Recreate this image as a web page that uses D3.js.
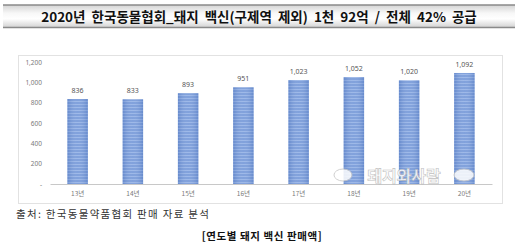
<!doctype html>
<html>
<head>
<meta charset="utf-8">
<script src="https://d3js.org/d3.v7.min.js"></script>
<style>
  body { margin: 0; background: #fff; }
  text { font-family: "Noto Sans CJK KR", "Noto Sans", sans-serif; }
</style>
</head>
<body>
<svg width="519" height="245" id="chart"></svg>
<script>
    var years = ["13년", "14년", "15년", "16년", "17년", "18년", "19년", "20년"];
    var sales = [836, 833, 893, 951, 1023, 1052, 1020, 1092];
    var yTicks = [0, 200, 400, 600, 800, 1000, 1200];

    var svg = d3.select("#chart");
    var defs = svg.append("defs");

    // title bar gradient
    var tg = defs.append("linearGradient").attr("id", "titleGrad")
        .attr("x1", 0).attr("y1", 0).attr("x2", 0).attr("y2", 1);
    tg.append("stop").attr("offset", "0%").attr("stop-color", "#d4d4d4");
    tg.append("stop").attr("offset", "35%").attr("stop-color", "#f7f7f7");
    tg.append("stop").attr("offset", "60%").attr("stop-color", "#ffffff");
    tg.append("stop").attr("offset", "100%").attr("stop-color", "#cfcfcf");

    // striped bar fill
    var pat = defs.append("pattern").attr("id", "barFill")
        .attr("patternUnits", "userSpaceOnUse")
        .attr("width", 4).attr("height", 3);
    pat.append("rect").attr("width", 4).attr("height", 3).attr("fill", "#7397d8");
    pat.append("rect").attr("y", 2).attr("width", 4).attr("height", 1).attr("fill", "#93b1e6");

    var bg = defs.append("linearGradient").attr("id", "barShade")
        .attr("x1", 0).attr("y1", 0).attr("x2", 1).attr("y2", 0);
    bg.append("stop").attr("offset", "0%").attr("stop-color", "#4f73b8").attr("stop-opacity", 0.35);
    bg.append("stop").attr("offset", "50%").attr("stop-color", "#ffffff").attr("stop-opacity", 0.1);
    bg.append("stop").attr("offset", "100%").attr("stop-color", "#4f73b8").attr("stop-opacity", 0.35);

    // title bar
    svg.append("rect").attr("x", 3).attr("y", 5).attr("width", 512).attr("height", 23)
        .attr("fill", "url(#titleGrad)");
    svg.append("line").attr("x1", 3).attr("x2", 515).attr("y1", 5).attr("y2", 5)
        .attr("stroke", "#8a8a8a").attr("stroke-width", 1.5);
    svg.append("line").attr("x1", 3).attr("x2", 515).attr("y1", 27.5).attr("y2", 27.5)
        .attr("stroke", "#8a8a8a").attr("stroke-width", 1.5);
    svg.append("text")
       .attr("x", 259).attr("y", 21.5)
       .attr("text-anchor", "middle")
       .attr("font-size", "13.5px")
       .attr("font-weight", "bold")
       .attr("word-spacing", "3px")
       .attr("fill", "#111")
       .text("2020년 한국동물협회_돼지 백신(구제역 제외) 1천 92억 / 전체 42% 공급");

    // chart frame
    svg.append("rect").attr("x", 18.5).attr("y", 55.5).attr("width", 484).attr("height", 148)
        .attr("fill", "#fff").attr("stroke", "#e2e2e2");

    var xScale = d3.scaleBand().domain(years).range([50, 492]).paddingInner(0.63).paddingOuter(0.315),
        yScale = d3.scaleLinear().domain([0, 1200]).range([184, 62]);

    // y axis labels
    var yAxis = svg.append("g")
        .attr("transform", "translate(50,0)")
        .call(d3.axisLeft(yScale).tickValues(yTicks).tickSize(0).tickPadding(8)
            .tickFormat(function(d) { return d === 0 ? "-" : d3.format(",")(d); }));
    yAxis.select(".domain").remove();
    yAxis.selectAll("text").attr("font-size", "6.5px").attr("fill", "#7a7a7a")
        .style("font-family", "'Noto Sans', sans-serif");

    // bars
    svg.selectAll(".bar").data(sales).enter().append("rect")
        .attr("class", "bar")
        .attr("x", function(d, i) { return xScale(years[i]); })
        .attr("y", function(d) { return yScale(d); })
        .attr("width", xScale.bandwidth())
        .attr("height", function(d) { return yScale(0) - yScale(d); })
        .attr("fill", "url(#barFill)");
    svg.selectAll(".shade").data(sales).enter().append("rect")
        .attr("x", function(d, i) { return xScale(years[i]); })
        .attr("y", function(d) { return yScale(d); })
        .attr("width", xScale.bandwidth())
        .attr("height", function(d) { return yScale(0) - yScale(d); })
        .attr("fill", "url(#barShade)");

    // value labels
    svg.selectAll(".val").data(sales).enter().append("text")
        .attr("x", function(d, i) { return xScale(years[i]) + xScale.bandwidth() / 2; })
        .attr("y", function(d) { return yScale(d) - 6; })
        .attr("text-anchor", "middle")
        .attr("font-size", "7px")
        .attr("fill", "#555")
        .style("font-family", "'Noto Sans', sans-serif")
        .text(function(d) { return d3.format(",")(d); });

    // x axis
    var xAxis = svg.append("g")
        .attr("transform", "translate(0,184)")
        .call(d3.axisBottom(xScale).tickSize(0).tickPadding(7));
    xAxis.select(".domain").attr("stroke", "#c8c8c8");
    xAxis.selectAll("text").attr("font-size", "6.5px").attr("fill", "#7a7a7a");

    // watermark
    var wm = svg.append("g").attr("opacity", 0.85);
    wm.append("ellipse").attr("cx", 343).attr("cy", 175).attr("rx", 9).attr("ry", 6).attr("fill", "#fff")
        .attr("stroke", "#c9c9c9");
    wm.append("ellipse").attr("cx", 464).attr("cy", 175).attr("rx", 10).attr("ry", 6).attr("fill", "#fff")
        .attr("stroke", "#c9c9c9");
    wm.append("text").attr("x", 404).attr("y", 182).attr("text-anchor", "middle")
        .attr("font-size", "16px").attr("font-weight", "bold")
        .attr("fill", "#fff").attr("stroke", "#b5b5b5").attr("stroke-width", 0.6)
        .text("돼지와사람");

    // source + caption
    svg.append("text").attr("x", 16).attr("y", 218)
        .attr("font-size", "10.5px").attr("fill", "#333")
        .attr("letter-spacing", "1.3px")
        .text("출처: 한국동물약품협회 판매 자료 분석");
    svg.append("text").attr("x", 262).attr("y", 240)
        .attr("text-anchor", "middle")
        .attr("font-size", "10.5px").attr("font-weight", "bold").attr("fill", "#111")
        .attr("letter-spacing", "0.6px")
        .text("[연도별 돼지 백신 판매액]");
</script>
</body>
</html>
